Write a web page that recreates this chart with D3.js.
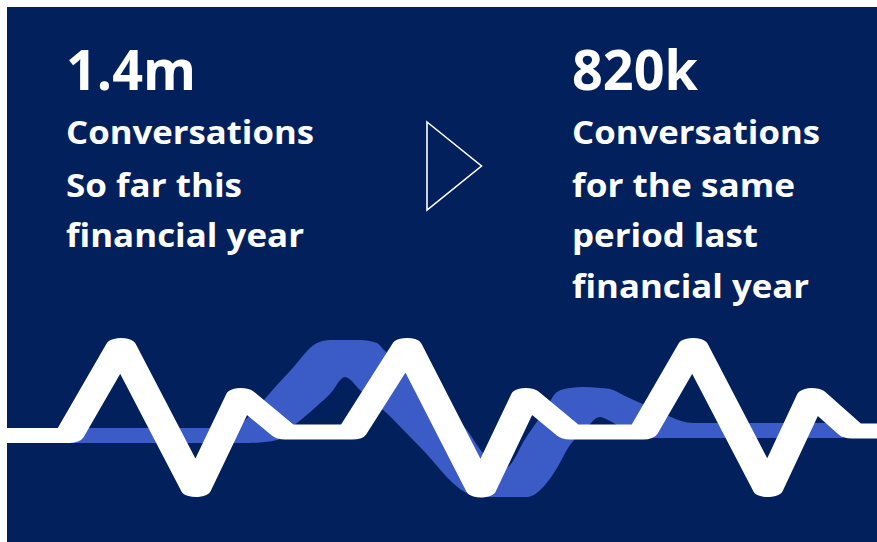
<!DOCTYPE html>
<html><head><meta charset="utf-8">
<script src="https://cdn.jsdelivr.net/npm/d3@7"></script>
<style>html,body{margin:0;padding:0;background:#fff;} svg{display:block}</style>
</head><body><svg id="c" width="877" height="542"></svg>
<script>
// ---- data ----
// white "pulse" line: position along the strip, signal level
const pulseT = [0, 69, 121, 196, 241, 285, 352, 407, 481, 526, 570, 643, 693, 768, 812, 852, 877];
const pulseV = [64.5, 64.5, 154.5, 10.5, 104.5, 68, 68, 154.5, 10, 104.5, 68, 68, 154.5, 10.5, 104.5, 69, 69];
// blue ribbon (last year): position, upper level, lower level
const ribbonT   = [75, 235, 250, 277, 290, 317, 330, 345, 360, 377, 383, 420, 467, 483, 505, 527, 545, 557, 570, 583, 600, 610, 625, 650, 693, 843];
const ribbonTop = [72, 72, 85, 115, 129, 157, 160, 160, 160, 157, 151, 116, 70, 47, 32, 64, 90, 108, 112, 113, 112, 111, 104, 93, 77, 77];
const ribbonBot = [57, 57, 57, 60, 71, 94, 106, 123, 110, 95, 90, 53, 7, 3, 3, 3, 15, 32, 55, 68, 83, 79, 70, 62, 62, 62];
// texts
const leftLines  = ["1.4m", "Conversations", "So far this", "financial year"];
const rightLines = ["820k", "Conversations", "for the same", "period last", "financial year"];
const leftWidths  = [130, 248, 176, 238];
const rightWidths = [126, 248, 223, 186, 237];

// ---- drawing ----
const svg = d3.select("#c");
const NAVY = "#02205C", BLUE = "#3B5BC6";
const panel = {x: 7, y: 7, w: 870, h: 535};
svg.append("rect").attr("x", panel.x).attr("y", panel.y).attr("width", panel.w).attr("height", panel.h).attr("fill", NAVY);

svg.append("clipPath").attr("id", "clip").append("rect")
  .attr("x", panel.x).attr("y", panel.y).attr("width", panel.w).attr("height", panel.h);

const x = d3.scaleLinear().domain([0, 877]).range([0, 877]);
const y = d3.scaleLinear().domain([0, 160]).range([500, 340]);

const g = svg.append("g").attr("clip-path", "url(#clip)");

// blue ribbon
const ribbon = ribbonT.map((t, i) => ({t, top: ribbonTop[i], bot: ribbonBot[i]}));
g.append("path").datum(ribbon)
  .attr("fill", BLUE)
  .attr("d", d3.area().x(d => x(d.t)).y0(d => y(d.bot)).y1(d => y(d.top)).curve(d3.curveMonotoneX));

// white pulse, drawn in a horizontally stretched space
const STRETCH = 2;
const xs = x.copy().range(x.range().map(v => v / STRETCH));
const pulse = pulseT.map((t, i) => ({t, v: pulseV[i]}));
g.append("g").attr("transform", `scale(${STRETCH},1)`)
  .append("path").datum(pulse)
  .attr("fill", "none").attr("stroke", "#fff").attr("stroke-width", 15)
  .attr("stroke-linejoin", "round").attr("stroke-linecap", "round")
  .attr("d", d3.line().x(d => xs(d.t)).y(d => y(d.v)));

// arrow triangle
svg.append("path")
  .attr("d", d3.line()([[427, 122], [481.5, 166], [427, 210]]) + "Z")
  .attr("fill", "none").attr("stroke", "#fff").attr("stroke-width", 1.6);

// texts
function block(lines, widths, x0) {
  const base = [90, 144, 196.5, 247, 298];
  lines.forEach((s, i) => {
    svg.append("text").attr("x", x0).attr("y", base[i])
      .attr("fill", "#fff")
      .attr("font-family", "'Open Sans', 'Noto Sans', sans-serif")
      .attr("font-weight", 700)
      .attr("font-size", i === 0 ? 56 : 32)
      .attr("textLength", widths[i]).attr("lengthAdjust", "spacingAndGlyphs")
      .text(s);
  });
}
block(leftLines, leftWidths, 66);
block(rightLines, rightWidths, 572);
</script></body></html>
